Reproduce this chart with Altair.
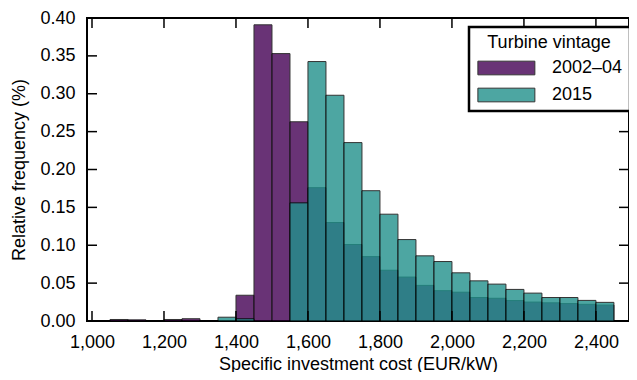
import altair as alt
import pandas as pd

# ---- data ----
bin_starts = [1050, 1100, 1150, 1200, 1250, 1300, 1350, 1400, 1450, 1500, 1550, 1600, 1650,
              1700, 1750, 1800, 1850, 1900, 1950, 2000, 2050, 2100, 2150, 2200, 2250,
              2300, 2350, 2400]
bin_width = 50
freq_2002_04 = [0.002, 0.0015, 0.0, 0.002, 0.003, 0.0005, 0.0, 0.034, 0.391, 0.353, 0.263,
                0.176, 0.130, 0.101, 0.085, 0.067, 0.058, 0.047, 0.040, 0.038, 0.031,
                0.030, 0.027, 0.025, 0.024, 0.023, 0.022, 0.021]
freq_2015 = [0.0, 0.0, 0.0, 0.0, 0.0, 0.0, 0.005, 0.003, 0.0, 0.0, 0.156,
             0.3425, 0.298, 0.2355, 0.172, 0.141, 0.1075, 0.086, 0.0785, 0.0636, 0.053,
             0.0487, 0.0417, 0.0368, 0.031, 0.031, 0.0272, 0.0246]
series_names = ["2002\u201304", "2015"]
series_colors = ["#440154", "#21918c"]
x_ticks = [1000, 1200, 1400, 1600, 1800, 2000, 2200, 2400]
y_ticks = [0.0, 0.05, 0.10, 0.15, 0.20, 0.25, 0.30, 0.35, 0.40]
x_domain = [1000, 2478]
y_domain = [0, 0.40]

rows = []
for name, vals in zip(series_names, [freq_2002_04, freq_2015]):
    for s, v in zip(bin_starts, vals):
        if v > 0:
            rows.append({"start": s, "end": s + bin_width, "freq": v, "vintage": name})
df = pd.DataFrame(rows)
xt = pd.DataFrame({"start": x_ticks})
yt = pd.DataFrame({"freq": y_ticks})

W, H = 542, 303
TL = 10
FONT = "Liberation Sans"
FS = 18

xscale = alt.Scale(domain=x_domain, nice=False, zero=False)
yscale = alt.Scale(domain=y_domain, nice=False)
x_axis = alt.Axis(values=x_ticks, format=",d", ticks=False, domain=False, grid=False,
                  labelPadding=12, title="Specific investment cost (EUR/kW)", titlePadding=4)
y_axis = alt.Axis(values=y_ticks, format=".2f", ticks=False, domain=False, grid=False,
                  labelPadding=12, title="Relative frequency (%)", titlePadding=11)

bars = alt.Chart(df).mark_bar(opacity=0.8, stroke="black", strokeWidth=1,
                              orient="vertical").encode(
    x=alt.X("start:Q", scale=xscale, axis=x_axis),
    x2="end:Q",
    y=alt.Y("freq:Q", scale=yscale, stack=None, axis=y_axis),
    y2=alt.datum(0),
    color=alt.Color("vintage:N", sort=series_names,
                    scale=alt.Scale(domain=series_names, range=series_colors),
                    legend=alt.Legend(title="Turbine vintage", orient="none",
                                      legendX=382, legendY=9)),
    order=alt.Order("vintage:N", sort="ascending"),
)

tick_style = dict(color="black", strokeWidth=1.5)
xb = alt.Chart(xt).mark_rule(**tick_style).encode(
    x=alt.X("start:Q", scale=xscale, axis=x_axis), y=alt.value(H), y2=alt.value(H - TL))
xtop = alt.Chart(xt).mark_rule(**tick_style).encode(
    x=alt.X("start:Q", scale=xscale, axis=x_axis), y=alt.value(0), y2=alt.value(TL))
yl = alt.Chart(yt).mark_rule(**tick_style).encode(
    y=alt.Y("freq:Q", scale=yscale, axis=y_axis), x=alt.value(0), x2=alt.value(TL))
yr = alt.Chart(yt).mark_rule(**tick_style).encode(
    y=alt.Y("freq:Q", scale=yscale, axis=y_axis), x=alt.value(W), x2=alt.value(W - TL))

chart = alt.layer(bars, xb, xtop, yl, yr).properties(
    width=W, height=H,
    autosize=alt.AutoSizeParams(type="none"),
    padding={"left": 79, "top": 10, "right": 0, "bottom": 51},
).configure_view(
    stroke="black", strokeWidth=2
).configure_axis(
    labelFont=FONT, titleFont=FONT, labelFontSize=FS, titleFontSize=FS,
    titleFontWeight="normal", labelColor="black", titleColor="black",
).configure_legend(
    titleFont=FONT, labelFont=FONT, titleFontSize=FS, labelFontSize=FS,
    titleFontWeight="normal", titleColor="black", labelColor="black",
    titleAnchor="middle", titlePadding=7,
    symbolType="M-1,-0.96H7V0.96H-1Z", symbolSize=203,
    symbolStrokeColor="black", symbolStrokeWidth=1, symbolOpacity=0.8,
    labelOffset=58, rowPadding=9, padding=7,
    strokeColor="black", strokeWidth=2.5, fillColor="white",
)

chart.save("out.html", embed_options={"renderer": "svg", "actions": False})
